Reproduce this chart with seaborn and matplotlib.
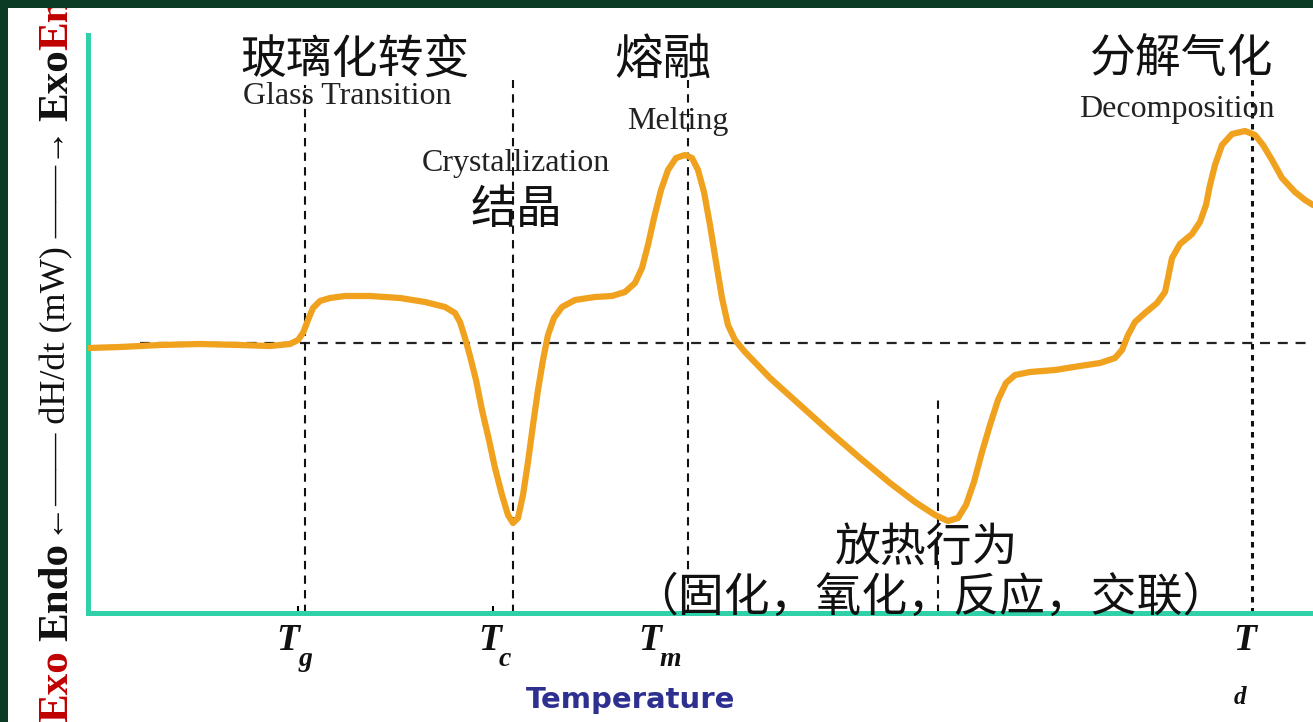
import numpy as np
import pandas as pd
import matplotlib
matplotlib.use('Agg')
import matplotlib.pyplot as plt
import seaborn as sns
from matplotlib.patches import Rectangle

# ---- data (x = temperature, y = heat flow, arbitrary units) ----
temperature = [0, 32, 72, 112, 152, 182, 202, 210, 215, 220, 225, 232, 242, 257, 282,
               312, 337, 357, 367, 372, 377, 382, 388, 394, 401, 407, 414, 420, 425, 430,
               435, 440, 445, 450, 455, 460, 466, 474, 487, 507, 524, 537, 547, 554, 560,
               566, 573, 580, 588, 597, 604, 610, 616, 622, 628, 634, 640, 647, 657, 682,
               712, 742, 772, 802, 827, 847, 860, 870, 878, 886, 894, 902, 910, 918, 927,
               942, 967, 992, 1012, 1027, 1034, 1040, 1047, 1057, 1069, 1077, 1080, 1084,
               1092, 1104, 1112, 1118, 1122, 1127, 1134, 1144, 1157, 1167, 1175, 1184,
               1194, 1207, 1217, 1225]
heat_flow = [-5, -4, -2, -1, -2, -3, -1, 3, 10, 23, 35, 42, 45, 47, 47,
             45, 41, 36, 30, 21, 5, -13, -37, -67, -97, -125, -152, -172, -180, -175,
             -152, -119, -82, -47, -17, 8, 25, 36, 43, 46, 47, 51, 60, 75, 98,
             125, 153, 173, 185, 188, 185, 173, 151, 118, 81, 45, 18, 3, -9, -35,
             -62, -89, -115, -140, -159, -172, -178, -175, -162, -139, -109, -82, -57, -40, -32,
             -29, -27, -23, -20, -15, -7, 8, 21, 30, 40, 51, 65, 85,
             99, 109, 121, 138, 158, 178, 198, 209, 212, 208, 198, 183,
             165, 151, 143, 138]

# characteristic temperatures and the top of their guide lines
marker_temps = [217, 425, 600, 850, 1164]
marker_tops = [258, 263, 263, -57, 298]
tick_temps = [210, 405]

df = pd.DataFrame({'Temperature': temperature, 'HeatFlow': heat_flow})

W, H = 1313, 722
def fp(x, y):
    # pixel position -> figure fraction
    return x / W, 1 - y / H

sns.set_theme(style='white')
plt.rcParams['font.family'] = ['Noto Sans CJK SC', 'DejaVu Sans']

fig = plt.figure(figsize=(W / 100, H / 100), dpi=100)
fig.patch.set_facecolor('white')
ax = fig.add_axes([88 / W, 109 / H, 1225 / W, 578 / H])
ax.set_facecolor('white')

teal = '#30d0a8'
orange = '#f0a11e'

# baseline + guide lines
ax.plot([52, 1225], [0, 0], color='#222222', lw=1.6, dashes=(4.5, 3.5), zorder=1)
for i, (t, top) in enumerate(zip(marker_temps, marker_tops)):
    if i == len(marker_temps) - 1:
        ax.plot([t, t], [-270, top], color='#111111', lw=2.2, dashes=(1.8, 1.8), zorder=1)
    else:
        ax.plot([t, t], [-270, top], color='#111111', lw=1.5, dashes=(4, 3), zorder=1)

sns.lineplot(data=df, x='Temperature', y='HeatFlow', sort=False, ax=ax,
             color=orange, lw=4.5, zorder=3)
ax.lines[-1].set_solid_joinstyle('round')
ax.lines[-1].set_solid_capstyle('round')

ax.set_xlim(0, 1225)
ax.set_ylim(-270, 308)
ax.set_xlabel('')
ax.set_ylabel('')
ax.set_yticks([])
ax.set_xticks(tick_temps)
ax.set_xticklabels([])
ax.tick_params(axis='x', direction='in', length=5, width=1.5, color='black', bottom=True)
for s in ['top', 'right']:
    ax.spines[s].set_visible(False)
for s in ['left', 'bottom']:
    ax.spines[s].set_color(teal)
    ax.spines[s].set_linewidth(3.6)
    ax.spines[s].set_zorder(2)

# ---- annotations ----
cjk = ['Noto Sans CJK SC', 'DejaVu Sans']
serif = ['Liberation Serif', 'DejaVu Serif']
fig.text(*fp(355, 60), '玻璃化转变', family=cjk, fontsize=33, ha='center', va='center', color='#111111')
fig.text(*fp(347, 97), 'Glass Transition', family=serif, fontsize=23, ha='center', va='center', color='#222222')
fig.text(*fp(663, 60), '熔融', family=cjk, fontsize=35, ha='center', va='center', color='#111111')
fig.text(*fp(678, 121), 'Melting', family=serif, fontsize=23, ha='center', va='center', color='#222222')
fig.text(*fp(516, 163), 'Crystallization', family=serif, fontsize=23, ha='center', va='center', color='#222222')
fig.text(*fp(516, 210), '结晶', family=cjk, fontsize=33, ha='center', va='center', color='#111111')
fig.text(*fp(1182, 60), '分解气化', family=cjk, fontsize=33, ha='center', va='center', color='#111111')
fig.text(*fp(1177, 110), 'Decomposition', family=serif, fontsize=23, ha='center', va='center', color='#222222')
fig.text(*fp(927, 548), '放热行为', family=cjk, fontsize=33, ha='center', va='center', color='#111111')
fig.text(*fp(930, 598), '（固化，氧化，反应，交联）', family=cjk, fontsize=33, ha='center', va='center', color='#111111')

# temperature symbols
tsym = [(288, 'g', 305), (490, 'c', 505), (650, 'm', 670)]
for xT, sub, xs in tsym:
    fig.text(*fp(xT, 640), 'T', family=serif, fontsize=27, weight='bold', style='italic',
             ha='center', va='center', color='#111111')
    fig.text(*fp(xs, 660), sub, family=serif, fontsize=20, weight='bold', style='italic',
             ha='center', va='center', color='#111111')
fig.text(*fp(1245, 640), 'T', family=serif, fontsize=27, weight='bold', style='italic',
         ha='center', va='center', color='#111111')
fig.text(*fp(1240, 697), 'd', family=serif, fontsize=18, weight='bold', style='italic',
         ha='center', va='center', color='#111111')
fig.text(*fp(631, 700), 'Temperature', family=['DejaVu Sans'], fontsize=21, weight='bold',
         ha='center', va='center', color='#2e3090')

# vertical axis label pieces
arrow_fam = ['Liberation Serif', 'DejaVu Sans']
fig.text(*fp(57, 592), 'Endo', family=serif, fontsize=31, weight='bold', rotation=90,
         ha='center', va='center', color='#111111')
fig.text(*fp(57, 335), '←—— dH/dt (mW) ——→', family=arrow_fam, fontsize=26, rotation=90,
         ha='center', va='center', color='#111111')
fig.text(*fp(57, 85), 'Exo', family=serif, fontsize=31, weight='bold', rotation=90,
         ha='center', va='center', color='#111111')
fig.text(*fp(57, 686), 'Exo', family=serif, fontsize=31, weight='bold', rotation=90,
         ha='center', va='center', color='#c00000')
fig.text(*fp(57, 50), 'Endo', family=serif, fontsize=31, weight='bold', rotation=90,
         ha='center', va='bottom', color='#c00000')

# dark frame at top and left
border = '#0b3a25'
fig.add_artist(Rectangle((0, 1 - 8 / H), 1, 8 / H, transform=fig.transFigure,
                         facecolor=border, edgecolor='none', zorder=10))
fig.add_artist(Rectangle((0, 0), 8 / W, 1, transform=fig.transFigure,
                         facecolor=border, edgecolor='none', zorder=10))

fig.savefig('out.png', dpi=100)
